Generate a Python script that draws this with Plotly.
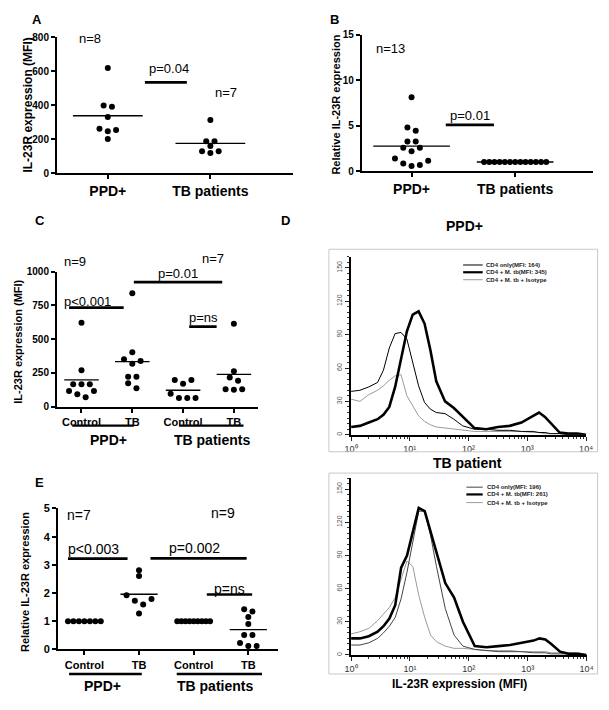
import numpy as np
import plotly.graph_objects as go

W, H = 609, 710
PAGE_OFF = 8  # default page margin of the html body
FONT = "Arial, 'Liberation Sans', Helvetica, sans-serif"

# ---------------- data ----------------
A_groups = ["PPD+", "TB patients"]
A_ppd = [620, 399, 391, 331, 262, 254, 247, 202]
A_tb = [314, 189, 189, 160, 129, 129, 119]
A_yticks = [0, 200, 400, 600, 800]

B_groups = ["PPD+", "TB patients"]
B_ppd = [8.13, 4.8, 4.45, 3.25, 3.25, 2.57, 2.57, 2.17, 1.37, 1.12, 0.83, 0.65, 0.54]
B_tb = [1.0, 1.0, 1.0, 1.0, 1.0, 1.0, 1.0, 1.0, 1.0, 1.0, 1.0, 1.0, 1.0]
B_yticks = [0, 5, 10, 15]

C_cats = ["Control", "TB", "Control", "TB"]
C_ppd_ctrl = [621, 269, 165, 165, 165, 116, 116, 92, 68]
C_ppd_tb = [840, 403, 350, 337, 318, 221, 221, 172, 136]
C_tb_ctrl = [197, 197, 168, 95, 63, 63, 63]
C_tb_tb = [614, 262, 216, 192, 129, 129, 124]
C_yticks = [0, 250, 500, 750, 1000]

E_cats = ["Control", "TB", "Control", "TB"]
E_ppd_ctrl = [1.0, 1.0, 1.0, 1.0, 1.0, 1.0, 1.0]
E_ppd_tb = [2.81, 2.60, 1.92, 1.79, 1.73, 1.59, 1.27]
E_tb_ctrl = [1.0, 1.0, 1.0, 1.0, 1.0, 1.0, 1.0, 1.0, 1.0]
E_tb_tb = [1.42, 1.34, 1.15, 0.90, 0.51, 0.51, 0.23, 0.12, 0.12]
E_yticks = [0, 1, 2, 3, 4, 5]

# flow cytometry histograms (fluorescence channel, event counts)
D_mfi = [1.0, 1.41, 2.0, 2.82, 3.55, 4.47, 5.62, 7.08, 8.91, 11.2, 14.1, 17.8, 22.4,
         28.2, 39.8, 56.2, 79.4, 126, 200, 316, 501, 794, 1259, 1585, 1995, 2512,
         3548, 5012, 7079, 10000]
D1_cd4 = [39, 40, 43, 47, 58, 78, 91, 92, 86, 64, 44, 29, 23, 20, 19, 14, 8, 5, 5, 4,
          4, 3, 3, 2, 2, 1, 1, 0, 0, 0]
D1_mtb = [7, 8, 11, 14, 18, 25, 43, 67, 93, 108, 111, 100, 76, 48, 30, 24, 16, 6, 5, 7,
          8, 11, 17, 20, 16, 10, 2, 1, 1, 0]
D1_iso = [32, 30, 36, 40, 44, 49, 53, 54, 35, 26, 17, 12, 9, 7, 6, 5, 4, 3, 3, 3, 3, 3,
          2, 2, 1, 1, 1, 0, 0, 0]
D2_cd4 = [9, 9, 11, 15, 20, 26, 34, 51, 75, 102, 130, 130, 108, 80, 42, 18, 8, 5, 4, 3,
          3, 3, 2, 2, 2, 1, 1, 1, 0, 0]
D2_mtb = [15, 15, 17, 21, 26, 33, 45, 79, 90, 111, 133, 130, 112, 92, 65, 52, 30, 8, 7,
          8, 9, 11, 13, 15, 14, 10, 3, 1, 1, 0]
D2_iso = [19, 21, 24, 31, 37, 43, 52, 68, 85, 80, 54, 34, 18, 12, 8, 6, 6, 5, 4, 4, 4,
          3, 3, 3, 3, 2, 2, 2, 2, 0]
D_xticks = [1, 10, 100, 1000, 10000]
D_xticktext = ["10\u2070", "10\u00b9", "10\u00b2", "10\u00b3", "10\u2074"]
D_yticks = [0, 30, 60, 90, 120, 150]
D1_legend = ["CD4 only(MFI: 164)", "CD4 + M. tb(MFI: 345)", "CD4 + M. tb + Isotype"]
D2_legend = ["CD4 only(MFI: 196)", "CD4 + M. tb(MFI: 261)", "CD4 + M. tb + Isotype"]

# ---------------- helpers ----------------
def fx(px):
    return (px - PAGE_OFF) / W


def fy(py):
    return 1 - (py - PAGE_OFF) / H


def swarm_offsets(vals, ppu_x, ppu_y, step_px=8.5, thresh_px=4.95, max_w=0.6):
    vals = np.asarray(vals, float)
    order = list(np.argsort(-vals, kind="stable"))
    clusters, cur = [], [order[0]]
    for a, b in zip(order[:-1], order[1:]):
        if (vals[a] - vals[b]) * ppu_y < thresh_px:
            cur.append(b)
        else:
            clusters.append(cur)
            cur = [b]
    clusters.append(cur)
    off = np.zeros(len(vals))
    for cl in clusters:
        k = len(cl)
        if k == 1:
            continue
        step = min(step_px, max_w * ppu_x / (k - 1))
        slots = [j - (k - 1) / 2 for j in range(k)]
        seq, lo, hi = [], 0, k - 1
        while lo <= hi:
            seq.append(slots[lo]); lo += 1
            if lo <= hi:
                seq.append(slots[hi]); hi -= 1
        for idx, s in zip(cl, seq):
            off[idx] = s * step / ppu_x
    return off


fig = go.Figure()
annotations = []
shapes = []


def ann(x, y, text, size, bold=False, angle=0, color="black", xanchor="center"):
    annotations.append(dict(
        x=fx(x), y=fy(y), xref="paper", yref="paper", text=text,
        showarrow=False, textangle=angle, xanchor=xanchor, yanchor="middle",
        font=dict(family=FONT, size=size, color=color, weight="bold" if bold else "normal")))


# panel geometry in pixels: (left, top, right, bottom)
panels = {
    "A": dict(box=(51, 31.7, 293, 170), xr=[0.505, 2.81], yr=[0, 800], ax=""),
    "B": dict(box=(363, 29.3, 600, 167.7), xr=[0.52, 2.755], yr=[0, 15], ax="2"),
    "C": dict(box=(51, 270, 257, 407.3), xr=[0.518, 4.48], yr=[0, 1000], ax="3"),
    "D1": dict(box=(352, 255, 592.5, 436), xr=[0, 4], yr=[0, 160], ax="4"),
    "D2": dict(box=(352, 480, 593, 660), xr=[0, 4], yr=[0, 160], ax="5"),
    "E": dict(box=(52, 511, 277, 654.3), xr=[0.517, 4.54], yr=[0, 5], ax="6"),
}


def ppu(p):
    l, t, r, b = p["box"]
    return (r - l) / (p["xr"][1] - p["xr"][0]), (b - t) / (p["yr"][1] - p["yr"][0])


def scatter_group(pname, cat, vals, half=0.34):
    p = panels[pname]
    px_, py_ = ppu(p)
    off = swarm_offsets(vals, px_, py_)
    ax = p["ax"]
    fig.add_trace(go.Scatter(
        x=[cat + o for o in off], y=vals, mode="markers",
        marker=dict(size=6, color="black", line=dict(width=0)),
        xaxis="x" + ax, yaxis="y" + ax, showlegend=False, hoverinfo="skip"))
    m = float(np.mean(vals))
    fig.add_trace(go.Scatter(
        x=[cat - half, cat + half], y=[m, m], mode="lines",
        line=dict(color="black", width=1.4),
        xaxis="x" + ax, yaxis="y" + ax, showlegend=False, hoverinfo="skip"))


def bar(pname, x0, x1, y, width=2.6):
    ax = panels[pname]["ax"]
    shapes.append(dict(type="line", xref="x" + ax, yref="y" + ax, x0=x0, x1=x1, y0=y, y1=y,
                       line=dict(color="black", width=width)))


def underline(pname, x0, x1, ypx):
    ax = panels[pname]["ax"]
    shapes.append(dict(type="line", xref="x" + ax, yref="paper", x0=x0, x1=x1,
                       y0=fy(ypx), y1=fy(ypx), line=dict(color="black", width=2.4)))


# ---------------- scatter panels ----------------
scatter_group("A", 1, A_ppd)
scatter_group("A", 2, A_tb)
scatter_group("B", 1, B_ppd, half=0.37)
scatter_group("B", 2, B_tb, half=0.37)
scatter_group("C", 1, C_ppd_ctrl)
scatter_group("C", 2, C_ppd_tb)
scatter_group("C", 3, C_tb_ctrl)
scatter_group("C", 4, C_tb_tb)
scatter_group("E", 1, E_ppd_ctrl)
scatter_group("E", 2, E_ppd_tb)
scatter_group("E", 3, E_tb_ctrl)
scatter_group("E", 4, E_tb_tb)

# ---------------- histograms ----------------
hist_styles = [dict(color="black", width=1.0), dict(color="black", width=2.6),
               dict(color="#9a9a9a", width=1.0)]
hist_styles2 = [dict(color="#444444", width=1.0), dict(color="black", width=2.6),
                dict(color="#9a9a9a", width=1.0)]
for series, st in zip([D1_iso, D1_cd4, D1_mtb], [hist_styles[2], hist_styles[0], hist_styles[1]]):
    fig.add_trace(go.Scatter(x=D_mfi, y=series, mode="lines", line=st,
                             xaxis="x4", yaxis="y4", showlegend=False, hoverinfo="skip"))
for series, st in zip([D2_iso, D2_cd4, D2_mtb], [hist_styles2[2], hist_styles2[0], hist_styles2[1]]):
    fig.add_trace(go.Scatter(x=D_mfi, y=series, mode="lines", line=st,
                             xaxis="x5", yaxis="y5", showlegend=False, hoverinfo="skip"))

# ---------------- axes ----------------
layout_axes = {}


def set_axes(pname, xtickvals, xticktext, xfont, yticks, yfont):
    p = panels[pname]
    l, t, r, b = p["box"]
    ax = p["ax"]
    xa = "xaxis" + ax
    ya = "yaxis" + ax
    layout_axes[xa] = dict(
        domain=[fx(l), fx(r)], range=p["xr"], anchor="y" + ax, showline=True, linecolor="black",
        linewidth=2, showgrid=False, zeroline=False, ticks="outside", ticklen=4, tickwidth=1.5,
        tickcolor="black", tickvals=xtickvals, ticktext=xticktext,
        tickfont=dict(family=FONT, size=xfont, color="black", weight="bold"), fixedrange=True)
    layout_axes[ya] = dict(
        domain=[fy(b), fy(t)], range=p["yr"], anchor="x" + ax, showline=True, linecolor="black",
        linewidth=2, showgrid=False, zeroline=False, ticks="outside", ticklen=4, tickwidth=1.5,
        tickcolor="black", tickvals=yticks,
        tickfont=dict(family=FONT, size=yfont, color="black", weight="bold"), fixedrange=True)


set_axes("A", [1, 2], A_groups, 14, A_yticks, 10)
set_axes("B", [1, 2], B_groups, 14, B_yticks, 10)
set_axes("C", [1, 2, 3, 4], C_cats, 11, C_yticks, 10)
set_axes("E", [1, 2, 3, 4], E_cats, 11, E_yticks, 11)

minor_vals = [m * 10 ** d for d in range(4) for m in range(2, 10)]
for pname in ["D1", "D2"]:
    p = panels[pname]
    l, t, r, b = p["box"]
    ax = p["ax"]
    layout_axes["xaxis" + ax] = dict(
        type="log", domain=[fx(l), fx(r)], range=p["xr"], anchor="y" + ax, showline=True,
        linecolor="black", linewidth=2, showgrid=False, zeroline=False, ticks="outside",
        ticklen=4, tickwidth=1, tickcolor="#222",
        tickvals=D_xticks, ticktext=D_xticktext,
        tickfont=dict(family=FONT, size=9, color="#333"),
        minor=dict(tickvals=minor_vals, ticks="outside", ticklen=2.5, tickcolor="#333", tickwidth=1),
        fixedrange=True)
    layout_axes["yaxis" + ax] = dict(
        domain=[fy(b), fy(t)], range=p["yr"], anchor="x" + ax, showline=True, linecolor="black",
        linewidth=2.2, showgrid=False, zeroline=False, ticks="outside", ticklen=4, tickwidth=1,
        tickcolor="#222", tickvals=D_yticks, tickangle=-90,
        tickfont=dict(family=FONT, size=7, color="#555"),
        minor=dict(dtick=5, ticks="outside", ticklen=2, tickcolor="#333", tickwidth=1),
        fixedrange=True)

# ---------------- annotations: panel A ----------------
ann(30.7, 13.5, "A", 13, bold=True)
ann(21.7, 100.8, "IL-23R expression (MFI)", 12, bold=True, angle=-90)
ann(85, 33, "n=8", 13)
ann(166, 63, "p=0.04", 13)
ann(224, 88, "n=7", 13)
bar("A", 1.362, 1.771, 535)

# panel B
ann(335, 13.5, "B", 13, bold=True)
ann(336.7, 100, "Relative IL-23R expression", 11, bold=True, angle=-90)
ann(392, 43, "n=13", 13)
ann(474, 111, "p=0.01", 13)
bar("B", 1.33, 1.795, 5.09)

# panel C
ann(33.3, 218.3, "C", 13, bold=True)
ann(285, 218.3, "D", 13, bold=True)
ann(11.5, 341, "IL-23R expression (MFI)", 11, bold=True, angle=-90)
ann(69, 260, "n=9", 13)
ann(211, 257, "n=7", 13)
ann(82, 300, "p<0.001", 13)
ann(175, 272, "p=0.01", 13)
ann(200.5, 317, "p=ns", 13)
bar("C", 0.755, 1.83, 733)
bar("C", 2.03, 3.77, 922)
bar("C", 3.12, 3.66, 592)
underline("C", 0.82, 2.03, 426.7)
underline("C", 2.92, 4.19, 426.7)
ann(104, 441.5, "PPD+", 14, bold=True)
ann(210, 441.5, "TB patients", 14, bold=True)

# panel E
ann(33.3, 485, "E", 13, bold=True)
ann(18, 586, "Relative IL-23R expression", 11, bold=True, angle=-90)
ann(74, 517.5, "n=7", 14)
ann(221, 516, "n=9", 14)
ann(88.7, 551.7, "p<0.003", 14)
ann(192, 550.8, "p=0.002", 14)
ann(228, 593, "p=ns", 14)
bar("E", 0.70, 1.79, 3.22)
bar("E", 2.21, 3.97, 3.23)
bar("E", 3.24, 4.07, 1.95)
underline("E", 0.72, 2.05, 679.3)
underline("E", 2.69, 4.25, 679.3)
ann(98, 691.7, "PPD+", 14, bold=True)
ann(213, 691.7, "TB patients", 14, bold=True)

# panel D
ann(468, 224, "PPD+", 14, bold=True)
ann(471, 465, "TB patient", 14, bold=True)
ann(463, 690, "IL-23R expression (MFI)", 12, bold=True)
for (x0, y0, x1, y1) in [(329.3, 247.3, 604.3, 453.3), (329.3, 475, 604.3, 679.3)]:
    shapes.append(dict(type="rect", xref="paper", yref="paper", x0=fx(x0), x1=fx(x1),
                       y0=fy(y1), y1=fy(y0), line=dict(color="#c8c8c8", width=1)))

leg_styles1 = [hist_styles[0], hist_styles[1], hist_styles[2]]
leg_styles2 = [hist_styles2[0], hist_styles2[1], hist_styles2[2]]
for labels, styles, ys, lx0, lx1, tx in [
        (D1_legend, leg_styles1, [263.3, 270.7, 278.3], 466.7, 486.7, 488.3),
        (D2_legend, leg_styles2, [489.3, 496.7, 505], 470, 486.7, 489)]:
    for lab, st, yy in zip(labels, styles, ys):
        shapes.append(dict(type="line", xref="paper", yref="paper", x0=fx(lx0), x1=fx(lx1),
                           y0=fy(yy), y1=fy(yy),
                           line=dict(color=st["color"], width=min(st["width"], 2.2))))
        ann(tx, yy, lab, 6, bold=True, color="#222", xanchor="left")

fig.update_layout(
    width=W, height=H, autosize=False,
    margin=dict(l=0, r=0, t=0, b=0),
    paper_bgcolor="white", plot_bgcolor="white",
    showlegend=False,
    font=dict(family=FONT, color="black"),
    annotations=annotations, shapes=shapes,
    **layout_axes)

fig.write_html("out.html")
